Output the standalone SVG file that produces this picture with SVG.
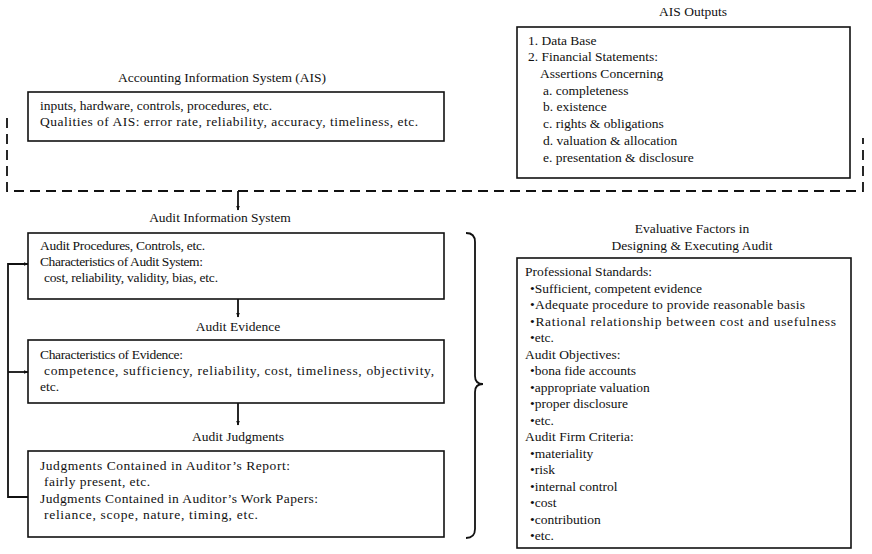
<svg xmlns="http://www.w3.org/2000/svg" width="872" height="554" viewBox="0 0 872 554">
<style>
text{font-family:"Liberation Serif","Times New Roman",serif;font-size:13.5px;fill:#111}
.t{text-anchor:middle}
.box{fill:none;stroke:#111;stroke-width:1.6}
.ln{fill:none;stroke:#111;stroke-width:1.8}
.dash{fill:none;stroke:#111;stroke-width:1.8;stroke-dasharray:10,6}
</style>
<defs>
<marker id="ah" viewBox="0 0 10 10" refX="9" refY="5" markerWidth="5" markerHeight="5" orient="auto" markerUnits="userSpaceOnUse">
<path d="M0,1 L10,5 L0,9 z" fill="#111"/>
</marker>
</defs>
<rect width="872" height="554" fill="#fff"/>

<g id="ais">
<text class="t" x="222" y="82">Accounting Information System (AIS)</text>
<rect class="box" x="28" y="92" width="416" height="49"/>
<text x="40" y="110">inputs, hardware, controls, procedures, etc.</text>
<text x="40" y="126" textLength="378">Qualities of AIS: error rate, reliability, accuracy, timeliness, etc.</text>
</g>

<g id="ais-outputs">
<text class="t" x="693" y="16">AIS Outputs</text>
<rect class="box" x="517" y="27" width="333" height="151"/>
<text x="528" y="45">1. Data Base</text>
<text x="528" y="61">2. Financial Statements:</text>
<text x="540" y="78">Assertions Concerning</text>
<text x="543" y="95">a. completeness</text>
<text x="543" y="111">b. existence</text>
<text x="543" y="128">c. rights &amp; obligations</text>
<text x="543" y="145">d. valuation &amp; allocation</text>
<text x="543" y="162">e. presentation &amp; disclosure</text>
</g>

<g id="audit-info">
<text class="t" x="220" y="222">Audit Information System</text>
<rect class="box" x="28" y="233" width="416" height="66"/>
<text x="40" y="250" textLength="165">Audit Procedures, Controls, etc.</text>
<text x="40" y="266" textLength="163">Characteristics of Audit System:</text>
<text x="44" y="282" textLength="174">cost, reliability, validity, bias, etc.</text>
</g>

<g id="audit-evidence">
<text class="t" x="238" y="331">Audit Evidence</text>
<rect class="box" x="28" y="340" width="416" height="63"/>
<text x="40" y="359" textLength="143">Characteristics of Evidence:</text>
<text x="44" y="375" textLength="390">competence, sufficiency, reliability, cost, timeliness, objectivity,</text>
<text x="40" y="391">etc.</text>
</g>

<g id="audit-judgments">
<text class="t" x="238" y="441">Audit Judgments</text>
<rect class="box" x="28" y="451" width="416" height="86"/>
<text x="40" y="470" textLength="250">Judgments Contained in Auditor’s Report:</text>
<text x="44" y="486" textLength="106">fairly present, etc.</text>
<text x="40" y="503" textLength="278">Judgments Contained in Auditor’s Work Papers:</text>
<text x="44" y="519" textLength="214">reliance, scope, nature, timing, etc.</text>
</g>

<g id="evaluative">
<text class="t" x="692" y="233">Evaluative Factors in</text>
<text class="t" x="692" y="250">Designing &amp; Executing Audit</text>
<rect class="box" x="517" y="258" width="334" height="290"/>
<text x="525" y="276">Professional Standards:</text>
<text x="530" y="292.5">•Sufficient, competent evidence</text>
<text x="530" y="309" textLength="275">•Adequate procedure to provide reasonable basis</text>
<text x="530" y="325.5" textLength="306">•Rational relationship between cost and usefulness</text>
<text x="530" y="342">•etc.</text>
<text x="525" y="358.5">Audit Objectives:</text>
<text x="530" y="375">•bona fide accounts</text>
<text x="530" y="391.5">•appropriate valuation</text>
<text x="530" y="408">•proper disclosure</text>
<text x="530" y="424.5">•etc.</text>
<text x="525" y="441">Audit Firm Criteria:</text>
<text x="530" y="457.5">•materiality</text>
<text x="530" y="474">•risk</text>
<text x="530" y="490.5">•internal control</text>
<text x="530" y="507">•cost</text>
<text x="530" y="523.5">•contribution</text>
<text x="530" y="540">•etc.</text>
</g>

<g id="connectors">
<path class="dash" d="M7,118 V191 H863 V138"/>
<path class="ln" d="M238,191 V210" marker-end="url(#ah)"/>
<path class="ln" d="M238,299 V317" marker-end="url(#ah)"/>
<path class="ln" d="M238,403 V425" marker-end="url(#ah)"/>
<path class="ln" d="M28,497 H8 V264 H28" marker-end="url(#ah)"/>
<path class="ln" d="M8,372 H28" marker-end="url(#ah)"/>
<path class="ln" d="M466,233 Q475,233 475,242 V376 Q475,384 483,384 Q475,384 475,392 V529 Q475,538 466,538"/>
</g>
</svg>
